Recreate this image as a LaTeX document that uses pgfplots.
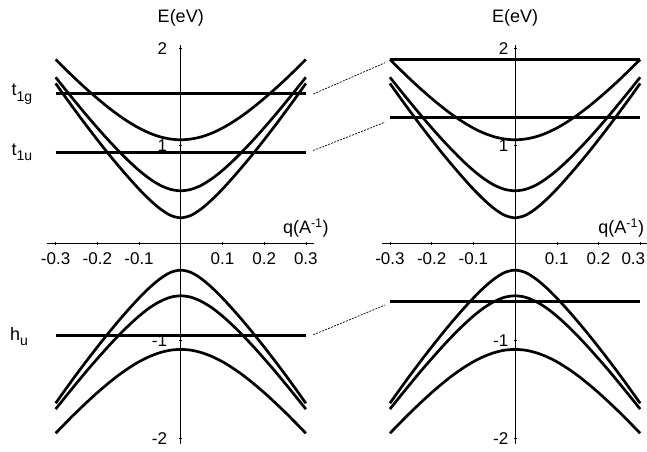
\documentclass[border=0pt]{standalone}
\usepackage{fontspec}
\setmainfont{Liberation Sans}
\usepackage{pgfplots}
\usepackage{pgfplotstable}
\pgfplotsset{compat=1.18}

% Band energies E(q) in eV: three conduction-like (c) and three valence-like (v) branches
\pgfplotstableread{
q      c1    c2    c3     v1     v2     v3
-0.300 1.884 1.701 1.638 -1.642 -1.702 -1.950
-0.275 1.778 1.567 1.488 -1.492 -1.568 -1.840
-0.250 1.675 1.436 1.342 -1.345 -1.437 -1.733
-0.225 1.577 1.307 1.199 -1.203 -1.308 -1.631
-0.200 1.484 1.183 1.060 -1.065 -1.185 -1.533
-0.175 1.396 1.063 0.925 -0.931 -1.065 -1.442
-0.150 1.315 0.950 0.796 -0.802 -0.951 -1.357
-0.125 1.243 0.843 0.672 -0.679 -0.845 -1.282
-0.100 1.180 0.746 0.554 -0.563 -0.748 -1.216
-0.075 1.129 0.662 0.447 -0.457 -0.664 -1.163
-0.050 1.091 0.595 0.354 -0.367 -0.599 -1.123
-0.025 1.068 0.552 0.286 -0.301 -0.555 -1.098
 0.000 1.060 0.537 0.260 -0.277 -0.540 -1.090
 0.025 1.068 0.552 0.286 -0.301 -0.555 -1.098
 0.050 1.091 0.595 0.354 -0.367 -0.599 -1.123
 0.075 1.129 0.662 0.447 -0.457 -0.664 -1.163
 0.100 1.180 0.746 0.554 -0.563 -0.748 -1.216
 0.125 1.243 0.843 0.672 -0.679 -0.845 -1.282
 0.150 1.315 0.950 0.796 -0.802 -0.951 -1.357
 0.175 1.396 1.063 0.925 -0.931 -1.065 -1.442
 0.200 1.484 1.183 1.060 -1.065 -1.185 -1.533
 0.225 1.577 1.307 1.199 -1.203 -1.308 -1.631
 0.250 1.675 1.436 1.342 -1.345 -1.437 -1.733
 0.275 1.778 1.567 1.488 -1.492 -1.568 -1.840
 0.300 1.884 1.701 1.638 -1.642 -1.702 -1.950
}\bands

% Molecular levels (eV): left and right panels
\pgfplotstableread{
q     tg    tu    hu
-0.3  1.53  0.93  -0.95
 0.3  1.53  0.93  -0.95
}\levelsA
\pgfplotstableread{
q     tg    tu    hu
-0.3  1.88  1.285 -0.60
 0.3  1.88  1.285 -0.60
}\levelsB

\newcommand{\lvl}[2]{#1\raisebox{-0.3em}{\fontsize{14}{16}\selectfont #2}}

\pgfplotsset{
  bandpanel/.style={
    anchor=south west,
    scale only axis, width=266.9pt, height=398.8pt,
    xmin=-0.32, xmax=0.32, ymin=-2.06, ymax=2.03,
    axis lines=middle,
    axis line style={-, line width=0.8pt, black},
    xtick={-0.3,-0.2,-0.1,0.1,0.2,0.3},
    ytick={-2,-1,1,2},
    yticklabels={-2,-1,1,2},
    major tick length=3pt,
    tick style={black, line width=0.5pt},
    tick label style={font=\fontsize{17}{19}\selectfont},
    x tick label style={anchor=north, inner sep=0pt, yshift=-8pt},
    y tick label style={anchor=east, inner sep=0pt},
    clip=false,
    band/.style={black, line width=2.7pt, smooth},
    level/.style={black, line width=3pt},
  }
}

\begin{document}
\begin{tikzpicture}[font=\fontsize{18}{20}\selectfont]
\useasboundingbox (0pt,0pt) rectangle (647pt,-451pt);

% Left panel
\begin{axis}[bandpanel, at={(47.3pt,-444pt)},
  xticklabels={-0.3,-0.2,-0.1,0.1,0.2,0.3},
  y tick label style={xshift=-12pt}]
  \addplot[band] table[x=q, y=c1] {\bands};
  \addplot[band] table[x=q, y=c2] {\bands};
  \addplot[band] table[x=q, y=c3] {\bands};
  \addplot[band] table[x=q, y=v1] {\bands};
  \addplot[band] table[x=q, y=v2] {\bands};
  \addplot[band] table[x=q, y=v3] {\bands};
  \addplot[level] table[x=q, y=tg] {\levelsA};
  \addplot[level] table[x=q, y=tu] {\levelsA};
  \addplot[level] table[x=q, y=hu] {\levelsA};
  \node at (axis cs:0,2.03) [yshift=27pt] {E(eV)};
  \node at (axis cs:0.30,0.154) {q(A\textsuperscript{-1})};
  \node at (axis cs:-0.381,1.53) {\lvl{t}{1g}};
  \node at (axis cs:-0.381,0.93) {\lvl{t}{1u}};
  \node at (axis cs:-0.388,-0.96) {\lvl{h}{u}};
  \coordinate (a1) at (axis cs:0.318,1.53);
  \coordinate (a2) at (axis cs:0.318,0.95);
  \coordinate (a3) at (axis cs:0.318,-0.94);
\end{axis}

% Right panel (the last tick label is kept inside the page edge)
\begin{axis}[bandpanel, at={(381.6pt,-444pt)},
  xticklabels={-0.3,-0.2,-0.1,0.1,0.2,\makebox[10pt][r]{0.3}},
  y tick label style={xshift=-5pt}]
  \addplot[band] table[x=q, y=c1] {\bands};
  \addplot[band] table[x=q, y=c2] {\bands};
  \addplot[band] table[x=q, y=c3] {\bands};
  \addplot[band] table[x=q, y=v1] {\bands};
  \addplot[band] table[x=q, y=v2] {\bands};
  \addplot[band] table[x=q, y=v3] {\bands};
  \addplot[level] table[x=q, y=tg] {\levelsB};
  \addplot[level] table[x=q, y=tu] {\levelsB};
  \addplot[level] table[x=q, y=hu] {\levelsB};
  \node at (axis cs:0,2.03) [yshift=27pt] {E(eV)};
  \node[anchor=east] at (axis cs:0.318,0.154) {q(A\textsuperscript{-1})};
  \coordinate (b1) at (axis cs:-0.312,1.85);
  \coordinate (b2) at (axis cs:-0.312,1.24);
  \coordinate (b3) at (axis cs:-0.312,-0.635);
\end{axis}

% Correspondence between the levels of the two panels
\draw[black, line width=0.7pt, dash pattern=on 2pt off 1.2pt] (a1) -- (b1);
\draw[black, line width=0.7pt, dash pattern=on 2pt off 1.2pt] (a2) -- (b2);
\draw[black, line width=0.7pt, dash pattern=on 2pt off 1.2pt] (a3) -- (b3);
\end{tikzpicture}
\end{document}
